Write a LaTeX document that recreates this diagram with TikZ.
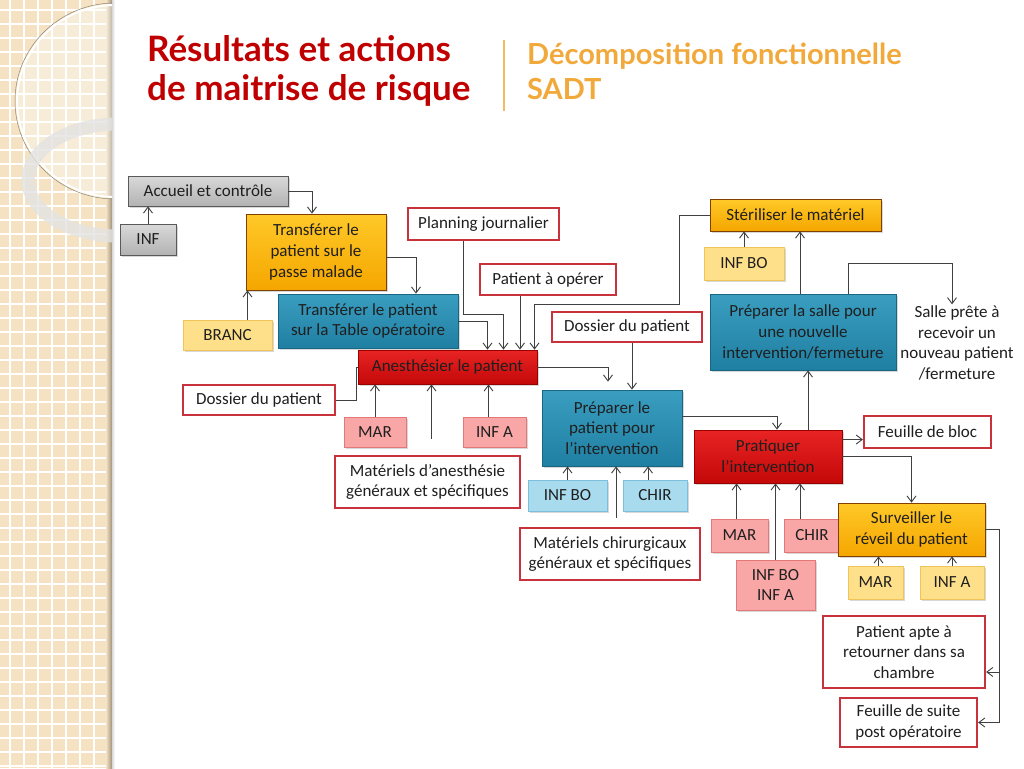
\documentclass[tikz,border=0pt]{standalone}
\usepackage{fontspec}
\setmainfont{Carlito}
\newfontfamily\titrefont{Lato}
\usetikzlibrary{arrows.meta,shadows}

\definecolor{bande}{HTML}{F4E2C2}
\definecolor{titrerouge}{HTML}{C00000}
\definecolor{titreorange}{HTML}{F2A93B}
\definecolor{bordrouge}{HTML}{C8323A}
\definecolor{orhaut}{HTML}{FFC928}
\definecolor{orbas}{HTML}{F5A600}
\definecolor{tealhaut}{HTML}{3A9EC0}
\definecolor{tealbas}{HTML}{1F7FA2}
\definecolor{rougehaut}{HTML}{E82424}
\definecolor{rougebas}{HTML}{C40808}
\definecolor{rosebord}{HTML}{E27878}
\definecolor{rosefond}{HTML}{F8A6A6}
\definecolor{jaunebord}{HTML}{F0C458}
\definecolor{jaunefond}{HTML}{FFE08A}
\definecolor{bleubord}{HTML}{7FBEDA}
\definecolor{bleufond}{HTML}{A9DBEF}

\begin{document}
\begin{tikzpicture}[x=1pt,y=-1pt,>={Straight Barb[length=6pt,width=9pt]},
  every node/.style={font=\fontsize{17}{20.8}\selectfont, text=black!88},
  boite/.style={align=center, inner sep=1pt, line width=0.8pt,
    drop shadow={shadow xshift=1.5pt, shadow yshift=-2pt, opacity=0.3}},
  grisbox/.style={boite, draw=black!65, top color=gray!30, bottom color=gray!60},
  orbox/.style={boite, draw=black!50!orange, top color=orhaut, bottom color=orbas},
  tealbox/.style={boite, draw=tealbas!80!black, top color=tealhaut, bottom color=tealbas},
  rougebox/.style={boite, draw=red!60!black, top color=rougehaut, bottom color=rougebas},
  rosebox/.style={boite, draw=rosebord, fill=rosefond},
  jaunebox/.style={boite, draw=jaunebord, fill=jaunefond},
  bleubox/.style={boite, draw=bleubord, fill=bleufond},
  sortie/.style={align=center, inner sep=1pt, draw=bordrouge, line width=2.2pt, fill=white},
  titre/.style={font=\titrefont\fontsize{35}{40}\selectfont\bfseries, anchor=base west, inner sep=0pt},
  soustitre/.style={titre, font=\titrefont\fontsize{29}{33}\selectfont\bfseries},
  fleche/.style={->, draw=black!75, line width=0.9pt},
  trait/.style={draw=black!75, line width=0.9pt}]

\useasboundingbox (0,0) rectangle (1024,768);
\fill[white] (0,0) rectangle (1024,768);

% Bande de gauche
\fill[bande] (0,0) rectangle (112,768);
\foreach \x in {10,24,...,108} {
  \draw[white, line width=1.2pt] (\x,0) -- (\x,768);
}
\foreach \y in {10,24,...,766} {
  \draw[white, line width=1.2pt] (0,\y) -- (112,\y);
}
\shade[left color=bande, right color=bande!65!black] (106,0) rectangle (112,768);
\shade[left color=black!15, right color=white] (112,0) rectangle (115,768);
\begin{scope}
  \clip (0,0) rectangle (112,768);
  \fill[white, opacity=0.35] (115,101) ellipse (98 and 96);
  \draw[white, line width=2pt] (115,101) ellipse (98 and 96);
  \draw[bande!60!black, line width=0.5pt] (115,101) ellipse (100 and 98);
  \draw[gray!22, opacity=0.8, line width=13pt] (118,180) ellipse (90 and 56);
\end{scope}

% Titres
\node[titre, text=titrerouge] (t1) at (147,62) {Résultats et actions};
\node[titre, text=titrerouge] (t2) at (147,100) {de maitrise de risque};
\draw[titreorange!80, line width=1.5pt] (504,40) -- (504,111);
\node[soustitre, text=titreorange] (s1) at (527,64) {Décomposition fonctionnelle};
\node[soustitre, text=titreorange] (s2) at (527,99) {SADT};

% Accueil
\node[grisbox, minimum width=160pt, minimum height=30pt] (acc) at (208,191) {Accueil et contrôle};
\node[grisbox, minimum width=56pt, minimum height=31pt] (inf) at (148,239.5) {INF};

% Transferts
\node[orbox, minimum width=140pt, minimum height=76pt] (tr1) at (316,252) {Transférer le\\patient sur le\\passe malade};
\node[jaunebox, minimum width=89pt, minimum height=30pt] (br) at (227.5,335) {BRANC};
\node[tealbox, minimum width=180pt, minimum height=54pt] (tr2) at (368,321) {Transférer le patient\\sur la Table opératoire};

% Anesthesie
\node[sortie, minimum width=151pt, minimum height=32pt] (pl) at (483.5,224) {Planning journalier};
\node[sortie, minimum width=136pt, minimum height=31pt] (pat) at (548,279.5) {Patient à opérer};
\node[rougebox, minimum width=179pt, minimum height=34pt] (an) at (447.5,367) {Anesthésier le patient};
\node[sortie, minimum width=152pt, minimum height=30pt] (dos1) at (259,400) {Dossier du patient};
\node[rosebox, minimum width=62pt, minimum height=30pt] (mar1) at (375,432) {MAR};
\node[rosebox, minimum width=63pt, minimum height=30pt] (infa1) at (494.5,432) {INF A};
\node[sortie, minimum width=185pt, minimum height=52pt] (mat1) at (427.5,482) {Matériels d’anesthésie\\généraux et spécifiques};

% Preparation du patient
\node[sortie, minimum width=150pt, minimum height=30pt] (dos2) at (627,327) {Dossier du patient};
\node[tealbox, minimum width=140pt, minimum height=76pt] (prep) at (612,428) {Préparer le\\patient pour\\l’intervention};
\node[bleubox, minimum width=79pt, minimum height=31pt] (infbo1) at (567.5,495.5) {INF BO};
\node[bleubox, minimum width=64pt, minimum height=31pt] (chir1) at (655,495.5) {CHIR};
\node[sortie, minimum width=180pt, minimum height=52pt] (mat2) at (610,554) {Matériels chirurgicaux\\généraux et spécifiques};

% Salle et materiel
\node[orbox, minimum width=171pt, minimum height=32pt] (ster) at (795.5,215) {Stériliser le matériel};
\node[jaunebox, minimum width=80pt, minimum height=33pt] (infbo2) at (744,263.5) {INF BO};
\node[tealbox, minimum width=186pt, minimum height=76pt] (sal) at (803,332) {Préparer la salle pour\\une nouvelle\\intervention/fermeture};
\node[align=center, inner sep=1pt] (pret) at (957,343) {Salle prête à\\recevoir un\\nouveau patient\\/fermeture};

% Intervention
\node[rougebox, minimum width=148pt, minimum height=53pt] (prat) at (768,456.5) {Pratiquer\\l’intervention};
\node[sortie, minimum width=127pt, minimum height=32pt] (fb) at (927.5,432) {Feuille de bloc};
\node[rosebox, minimum width=57pt, minimum height=33pt] (mar2) at (739.5,535.5) {MAR};
\node[rosebox, minimum width=56pt, minimum height=33pt] (chir2) at (812,535.5) {CHIR};
\node[rosebox, minimum width=79pt, minimum height=50pt] (ibia) at (775.5,585) {INF BO\\INF A};

% Reveil
\node[orbox, minimum width=147pt, minimum height=53pt] (surv) at (911.5,529.5) {Surveiller le\\réveil du patient};
\node[jaunebox, minimum width=55pt, minimum height=33pt] (mar3) at (875.5,582.5) {MAR};
\node[jaunebox, minimum width=64pt, minimum height=33pt] (infa3) at (952,582.5) {INF A};
\node[sortie, minimum width=162pt, minimum height=72pt] (apte) at (904,652) {Patient apte à\\retourner dans sa\\chambre};
\node[sortie, minimum width=137pt, minimum height=49pt] (fs) at (908.5,722.5) {Feuille de suite\\post opératoire};

% Liaisons
\draw[fleche] (inf.north) -- (inf.north |- acc.south);
\draw[fleche] (acc.east) -| ([xshift=-4pt]tr1.north);
\draw[fleche] ([xshift=20pt]br.north) -- ([xshift=20pt]br.north |- tr1.south);
\draw[fleche] ([yshift=-5pt]tr1.east) -| ([xshift=48pt]tr2.north);
\draw[fleche] (tr2.east) -| ([xshift=40pt]an.north);
\draw[fleche] ([xshift=-20pt]pl.south) -- ++(0,73) -| ([xshift=56pt]an.north);
\draw[fleche] ([xshift=-28pt]pat.south) -- ([xshift=-28pt]pat.south |- an.north);
\draw[fleche] (ster.west) -- ++(-30,0) -- ++(0,89) -| ([xshift=87pt]an.north);
\draw[trait] (dos1.east) -- ++(20,0) |- (an.west);
\draw[fleche] (mar1.north) -- (mar1.north |- an.south);
\draw[fleche] ([shift={(4pt,16pt)}]mat1.north) -- ([xshift=4pt]mat1.north |- an.south);
\draw[fleche] ([xshift=-6pt]infa1.north) -- ([xshift=-6pt]infa1.north |- an.south);

\draw[fleche] (an.east) -| ([shift={(-4pt,8pt)}]prep.north);
\draw[fleche] ([xshift=5pt]dos2.south) -- ([xshift=5pt]dos2.south |- prep.north);
\draw[fleche] (infbo1.north) -- (infbo1.north |- prep.south);
\draw[fleche] ([shift={(6pt,9pt)}]mat2.north) -- ([xshift=6pt]mat2.north |- prep.south);
\draw[fleche] ([xshift=-7pt]chir1.north) -- ([xshift=-7pt]chir1.north |- prep.south);
\draw[fleche] ([yshift=12pt]prep.east) -| ([xshift=9pt]prat.north);

\draw[fleche] ([xshift=40pt]prat.north) -- ([xshift=40pt]prat.north |- sal.south);
\draw[fleche] ([xshift=-3pt]sal.north) -- ([xshift=-3pt]sal.north |- ster.south);
\draw[fleche] (infbo2.north) -- (infbo2.north |- ster.south);
\draw[fleche] ([xshift=45pt]sal.north) -- ++(0,-30) -| ([xshift=-5pt]pret.north);

\draw[fleche] ([yshift=17pt]prat.east) -- ([yshift=17pt]prat.east -| fb.west);
\draw[fleche] (prat.east) -| (surv.north);
\draw[fleche] ([xshift=-3pt]mar2.north) -- ([xshift=-3pt]mar2.north |- prat.south);
\draw[fleche] (ibia.north) -- (ibia.north |- prat.south);
\draw[fleche] ([xshift=-12pt]chir2.north) -- ([xshift=-12pt]chir2.north |- prat.south);

\draw[fleche] ([xshift=3pt]mar3.north) -- ([xshift=3pt]mar3.north |- surv.south);
\draw[fleche] (infa3.north) -- (infa3.north |- surv.south);
\draw[fleche] (surv.east) -- ++(14,0) |- ([yshift=-20pt]apte.east);
\draw[fleche] (surv.east) -- ++(14,0) |- (fs.east);

\end{tikzpicture}
\end{document}
